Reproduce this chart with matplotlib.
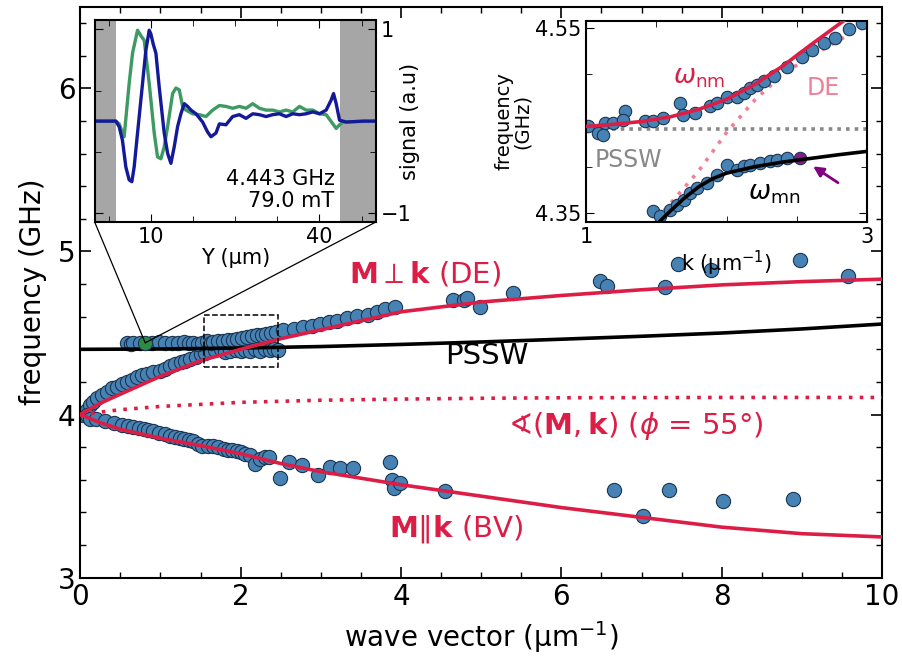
import matplotlib
matplotlib.use('Agg')
import matplotlib.pyplot as plt
import numpy as np
from matplotlib.ticker import MultipleLocator, FixedLocator
from matplotlib.patches import Rectangle, ConnectionPatch

# ---------------- main panel data ----------------
# theory curves
k_de_th = [0, 0.25, 0.5, 1, 1.5, 2, 2.5, 3, 4, 5, 6, 7, 8, 9, 10]
f_de_th = [4.0, 4.07, 4.125, 4.235, 4.33, 4.40, 4.465, 4.52, 4.63, 4.69, 4.73, 4.765, 4.795, 4.815, 4.83]

k_bv_th = [0, 0.25, 0.5, 1, 1.5, 2, 2.5, 3, 4, 5, 6, 7, 8, 9, 10]
f_bv_th = [4.0, 3.95, 3.91, 3.855, 3.81, 3.76, 3.70, 3.65, 3.57, 3.50, 3.43, 3.37, 3.31, 3.27, 3.25]

k_55_th = [0, 0.5, 1, 2, 3, 4, 5, 6, 7, 8, 9, 10]
f_55_th = [4.0, 4.03, 4.05, 4.075, 4.088, 4.095, 4.10, 4.103, 4.104, 4.105, 4.105, 4.105]

k_pssw_th = [0, 1, 2, 3, 4, 5, 6, 7, 8, 9, 10]
f_pssw_th = [4.40, 4.402, 4.408, 4.417, 4.43, 4.445, 4.462, 4.48, 4.50, 4.525, 4.555]

# measured points, upper branch (DE side)
k_up = [0.03, 0.08, 0.12, 0.16, 0.21, 0.27, 0.33, 0.40, 0.46, 0.52, 0.58, 0.65, 0.71, 0.77,
        0.83, 0.91, 1.00, 1.06, 1.12, 1.18, 1.25, 1.31, 1.37, 1.44, 1.50, 1.56, 1.62, 1.68,
        1.75, 1.80, 1.87, 1.94, 2.00, 2.06, 2.12, 2.18, 2.24, 2.30, 2.36, 2.42, 2.46,
        0.58, 0.63, 0.66, 0.74, 0.90, 0.98, 1.06, 1.14, 1.22, 1.29, 1.36, 1.41, 1.47, 1.52,
        1.58, 1.63, 1.66, 1.72, 1.78, 1.84, 1.90, 1.96, 2.02, 2.08, 2.14, 2.20, 2.26, 2.32,
        2.38, 2.44, 2.53, 2.66, 2.78, 2.89, 2.99, 3.10, 3.20, 3.33, 3.45, 3.59, 3.70, 3.80,
        3.93, 4.65, 4.78, 4.82, 4.99, 5.40, 6.48, 6.57, 7.29, 7.46, 7.86, 8.98, 9.58]
f_up = [4.00, 4.03, 4.06, 4.08, 4.10, 4.12, 4.14, 4.16, 4.17, 4.19, 4.20, 4.21, 4.23, 4.24,
        4.25, 4.26, 4.27, 4.28, 4.30, 4.31, 4.32, 4.33, 4.34, 4.355, 4.37, 4.38, 4.39, 4.395,
        4.40, 4.385, 4.39, 4.395, 4.39, 4.395, 4.39, 4.40, 4.39, 4.40, 4.395, 4.40, 4.395,
        4.44, 4.43, 4.44, 4.44, 4.44, 4.445, 4.44, 4.44, 4.44, 4.445, 4.44, 4.44, 4.43, 4.44,
        4.45, 4.44, 4.445, 4.45, 4.45, 4.455, 4.46, 4.465, 4.47, 4.475, 4.48, 4.485, 4.49, 4.495,
        4.50, 4.505, 4.52, 4.525, 4.535, 4.545, 4.555, 4.565, 4.575, 4.59, 4.605, 4.61, 4.63, 4.645,
        4.66, 4.70, 4.705, 4.715, 4.66, 4.745, 4.82, 4.79, 4.78, 4.92, 4.885, 4.95, 4.85]

# measured points, lower branch (BV side)
k_lo = [0.08, 0.12, 0.20, 0.31, 0.42, 0.52, 0.60, 0.66, 0.73, 0.79, 0.85, 0.91, 0.98, 1.06,
        1.12, 1.18, 1.24, 1.29, 1.35, 1.41, 1.47, 1.52, 1.59, 1.66, 1.72, 1.79, 1.84, 1.89,
        1.95, 2.00, 2.06, 2.12, 2.18, 2.24, 2.30, 2.35, 2.49, 2.60, 2.77, 2.97, 3.12, 3.24,
        3.40, 3.86, 3.89, 3.91, 3.99, 4.55, 6.65, 7.02, 7.34, 8.02, 8.89]
f_lo = [4.00, 3.97, 3.97, 3.96, 3.95, 3.935, 3.93, 3.925, 3.915, 3.91, 3.905, 3.90, 3.89, 3.88,
        3.87, 3.86, 3.855, 3.85, 3.845, 3.84, 3.82, 3.81, 3.81, 3.805, 3.80, 3.79, 3.785, 3.78,
        3.775, 3.77, 3.76, 3.75, 3.70, 3.73, 3.74, 3.74, 3.61, 3.71, 3.69, 3.63, 3.68, 3.67,
        3.67, 3.71, 3.60, 3.55, 3.58, 3.53, 3.54, 3.38, 3.54, 3.47, 3.48]

# highlighted point (green) whose profile is shown in the left inset
k_sel, f_sel = 0.81, 4.44

# ---------------- left inset: line profiles ----------------
y_green = [0.0, 3.76, 4.35, 5.24, 6.13, 6.73, 7.62, 8.21, 8.81, 9.70, 10.59, 11.18, 11.78, 12.37,
           12.97, 13.86, 14.45, 15.05, 15.64, 16.23, 17.42, 18.61, 19.80, 20.99, 22.18, 23.36,
           24.55, 25.74, 26.93, 28.12, 29.31, 30.49, 31.68, 32.87, 34.06, 35.25, 36.44, 37.62,
           38.81, 40.00, 41.19, 42.38, 42.97, 43.57, 44.16, 50.0]
s_green = [0.0, 0.0, -0.03, -0.17, 0.41, 0.74, 0.99, 0.93, 0.88, 0.41, -0.13, -0.39, -0.41, -0.28,
           -0.06, 0.30, 0.36, 0.34, 0.16, 0.12, 0.08, 0.07, 0.05, 0.12, 0.17, 0.16,
           0.14, 0.16, 0.14, 0.19, 0.14, 0.12, 0.12, 0.10, 0.12, 0.10, 0.16, 0.12,
           0.12, 0.08, 0.07, -0.03, -0.08, -0.04, -0.01, 0.0]

y_blue = [0.0, 3.76, 4.35, 4.94, 5.54, 6.13, 6.61, 7.02, 7.62, 8.51, 9.10, 9.70, 9.99, 10.41,
          10.89, 11.48, 12.37, 12.97, 13.56, 14.15, 14.75, 15.34, 15.94, 16.53, 17.13, 18.02,
          19.20, 20.10, 20.69, 21.58, 22.18, 23.36, 24.55, 25.74, 26.93, 28.12, 29.31, 30.49,
          31.68, 32.87, 34.06, 35.25, 36.44, 37.62, 38.81, 40.00, 41.19, 42.08, 42.50, 42.97,
          43.57, 44.75, 47.72, 50.0]
s_blue = [0.0, 0.0, -0.06, -0.21, -0.50, -0.64, -0.66, -0.50, -0.13, 0.41, 0.77, 0.99, 0.95, 0.84,
          0.74, 0.37, -0.13, -0.35, -0.46, -0.28, -0.06, 0.08, 0.19, 0.16, 0.12, 0.08,
          -0.01, -0.12, -0.17, -0.13, -0.03, -0.04, 0.05, 0.07, 0.03, 0.08, 0.07, 0.05,
          0.07, 0.08, 0.05, 0.08, 0.07, 0.08, 0.10, 0.08, 0.12, 0.23, 0.30, 0.19,
          0.01, -0.01, 0.0, 0.0]

gray_left = (0, 3.7)
gray_right = (43.6, 50)

# ---------------- right inset: anticrossing zoom ----------------
ki_up = [1.016, 1.088, 1.135, 1.123, 1.195, 1.278, 1.266, 1.42, 1.48, 1.55, 1.67, 1.69, 1.777,
         1.884, 1.93, 2.003, 2.074, 2.121, 2.169, 2.216, 2.264, 2.335, 2.43, 2.537, 2.609,
         2.691, 2.775, 2.87, 2.965]
fi_up = [4.4436, 4.4365, 4.4473, 4.4347, 4.4473, 4.4598, 4.4509, 4.449, 4.449, 4.4527, 4.4689,
         4.4563, 4.4581, 4.4653, 4.4689, 4.476, 4.476, 4.4797, 4.4851, 4.4887, 4.4923, 4.4977,
         4.5085, 4.5193, 4.5265, 4.5338, 4.5392, 4.549, 4.5554]
ki_lo = [1.48, 1.527, 1.599, 1.646, 1.694, 1.741, 1.789, 1.86, 1.932, 2.003, 2.074, 2.121,
         2.169, 2.24, 2.311, 2.359, 2.43]
fi_lo = [4.3517, 4.3463, 4.3536, 4.359, 4.3644, 4.3716, 4.377, 4.3824, 4.3914, 4.4022, 4.3968,
         4.4004, 4.4022, 4.404, 4.4058, 4.4076, 4.4095]
k_purple, f_purple = 2.525, 4.4095

ki_nm = [1.0, 1.2, 1.4, 1.6, 1.8, 2.0, 2.2, 2.4, 2.6, 2.834]
fi_nm = [4.4436, 4.446, 4.449, 4.454, 4.462, 4.473, 4.489, 4.509, 4.532, 4.558]
ki_mn = [1.52, 1.6, 1.7, 1.8, 1.9, 2.0, 2.2, 2.4, 2.6, 2.8, 3.0]
fi_mn = [4.34, 4.352, 4.366, 4.378, 4.387, 4.393, 4.400, 4.405, 4.409, 4.413, 4.4166]
ki_de = [1.45, 1.6, 1.8, 2.0, 2.2, 2.4, 2.6, 2.8, 3.0]
fi_de = [4.335, 4.36, 4.395, 4.437, 4.472, 4.50, 4.52, 4.537, 4.553]
ki_ps = [1.0, 3.0]
fi_ps = [4.441, 4.441]

RED = '#dc1e46'
PINK = '#f07f98'
FACE = '#4682b4'
EDGE = '#1c3550'

plt.rcParams['font.family'] = 'DejaVu Sans'
plt.rcParams['mathtext.fontset'] = 'dejavusans'

fig = plt.figure(figsize=(9.02, 6.71), dpi=100)
ax = fig.add_axes([0.089, 0.139, 0.889, 0.851])

ax.scatter(k_up, f_up, s=105, c=FACE, edgecolors=EDGE, linewidths=0.8, zorder=2)
ax.scatter(k_lo, f_lo, s=105, c=FACE, edgecolors=EDGE, linewidths=0.8, zorder=2)
ax.scatter([k_sel], [f_sel], s=105, c='#2e8b45', edgecolors=EDGE, linewidths=0.8, zorder=4)

ax.plot(k_pssw_th, f_pssw_th, color='black', lw=2.6, zorder=3)
ax.plot(k_de_th, f_de_th, color=RED, lw=2.6, zorder=3)
ax.plot(k_bv_th, f_bv_th, color=RED, lw=2.6, zorder=3)
ax.plot(k_55_th, f_55_th, color=RED, lw=2.6, dashes=(1, 2), zorder=3)

ax.add_patch(Rectangle((1.54, 4.29), 0.92, 0.32, fill=False, ls='--', lw=1.1,
                       edgecolor='black', zorder=5))

ax.set_xlim(0, 10)
ax.set_ylim(3, 6.5)
ax.xaxis.set_major_locator(MultipleLocator(2))
ax.xaxis.set_minor_locator(MultipleLocator(0.5))
ax.yaxis.set_major_locator(MultipleLocator(1))
ax.yaxis.set_minor_locator(MultipleLocator(0.2))
ax.tick_params(which='both', direction='in', top=True, right=True, labelsize=20)
ax.tick_params(which='major', length=8, width=1.2)
ax.tick_params(which='minor', length=4, width=1)
for sp in ax.spines.values():
    sp.set_linewidth(1.5)
ax.set_xlabel('wave vector (µm$^{-1}$)', fontsize=20, labelpad=6)
ax.set_ylabel('frequency (GHz)', fontsize=20, labelpad=8)

ax.text(3.35, 4.86, r'$\mathbf{M}\perp\mathbf{k}$ (DE)', color=RED, fontsize=21, va='center')
ax.text(4.55, 4.36, 'PSSW', color='black', fontsize=21, va='center')
ax.text(5.33, 3.93, r'$\sphericalangle(\mathbf{M},\mathbf{k})$ ($\phi$ = 55°)', color=RED,
        fontsize=21, va='center')
ax.text(3.85, 3.30, r'$\mathbf{M}\Vert\mathbf{k}$ (BV)', color=RED, fontsize=21, va='center')

# left inset
ax1 = fig.add_axes([0.105, 0.669, 0.3115, 0.301])
ax1.axvspan(*gray_left, color='#a6a6a6', zorder=0, lw=0)
ax1.axvspan(*gray_right, color='#a6a6a6', zorder=0, lw=0)
ax1.plot(y_green, s_green, color='#3c9a62', lw=2.4)
ax1.plot(y_blue, s_blue, color='#14199a', lw=2.4)
ax1.set_xlim(0, 50)
ax1.set_ylim(-1.1, 1.1)
ax1.xaxis.set_major_locator(FixedLocator([10, 40]))
ax1.xaxis.set_minor_locator(FixedLocator([2.5, 17.5, 25, 32.5, 47.5]))
ax1.yaxis.set_major_locator(FixedLocator([-1, 1]))
ax1.yaxis.set_minor_locator(FixedLocator([-1 / 3, 0, 1 / 3]))
ax1.yaxis.tick_right()
ax1.yaxis.set_label_position('right')
ax1.tick_params(which='both', direction='in', top=True, left=True, right=True, labelsize=15)
ax1.tick_params(which='major', length=6)
ax1.tick_params(which='minor', length=4)
ax1.set_xlabel('Y (µm)', fontsize=15, labelpad=1)
ax1.set_ylabel('signal (a.u)', fontsize=15, labelpad=-8)
ax1.text(42.7, -0.98, '4.443 GHz\n79.0 mT', ha='right', va='bottom', fontsize=15,
         linespacing=1.1)
for sp in ax1.spines.values():
    sp.set_linewidth(1.5)

for xa in (0, 1):
    con = ConnectionPatch(xyA=(xa, 0), coordsA=ax1.transAxes, xyB=(k_sel, f_sel),
                          coordsB=ax.transData, color='black', lw=0.9, zorder=1)
    fig.add_artist(con)

# right inset
ax2 = fig.add_axes([0.6497, 0.669, 0.3115, 0.30])
ax2.plot(ki_ps, fi_ps, color='#888888', lw=2.6, dashes=(1, 1.4), zorder=1)
ax2.plot(ki_de, fi_de, color=PINK, lw=2.6, dashes=(1, 2), zorder=1)
ax2.scatter(ki_up, fi_up, s=80, c=FACE, edgecolors=EDGE, linewidths=0.8, zorder=2)
ax2.scatter(ki_lo, fi_lo, s=80, c=FACE, edgecolors=EDGE, linewidths=0.8, zorder=2)
ax2.scatter([k_purple], [f_purple], s=80, c='#8a1a8a', edgecolors=EDGE, linewidths=0.8, zorder=2)
ax2.plot(ki_nm, fi_nm, color=RED, lw=2.6, zorder=3)
ax2.plot(ki_mn, fi_mn, color='black', lw=2.6, zorder=3)
ax2.annotate('', xy=(2.6, 4.402), xytext=(2.81, 4.381),
             arrowprops=dict(arrowstyle='-|>', color='#800080', lw=2, mutation_scale=15))
ax2.set_xlim(1, 3)
ax2.set_ylim(4.34, 4.558)
ax2.xaxis.set_major_locator(FixedLocator([1, 3]))
ax2.xaxis.set_minor_locator(FixedLocator([1.5, 2, 2.5]))
ax2.yaxis.set_major_locator(FixedLocator([4.35, 4.55]))
ax2.yaxis.set_minor_locator(FixedLocator([4.40, 4.45, 4.50]))
ax2.tick_params(which='both', direction='in', top=True, right=True, labelsize=15)
ax2.tick_params(which='major', length=6)
ax2.tick_params(which='minor', length=4)
ax2.set_xlabel('k (µm$^{-1}$)', fontsize=15, labelpad=1)
ax2.set_ylabel('frequency\n(GHz)', fontsize=14, labelpad=2, linespacing=1.0)
ax2.text(1.62, 4.497, r'$\omega_{\rm nm}$', color=RED, fontsize=19, va='center')
ax2.text(2.57, 4.485, 'DE', color=PINK, fontsize=17, va='center')
ax2.text(1.06, 4.407, 'PSSW', color='#888888', fontsize=17, va='center')
ax2.text(2.15, 4.372, r'$\omega_{\rm mn}$', color='black', fontsize=19, va='center')
for sp in ax2.spines.values():
    sp.set_linewidth(1.5)

plt.savefig('out.png', dpi=100)
